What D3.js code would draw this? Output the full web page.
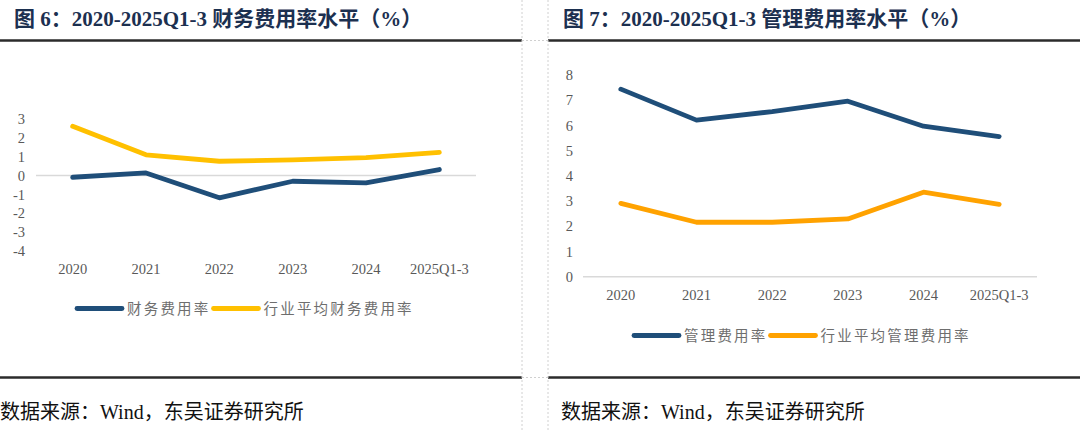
<!DOCTYPE html>
<html><head><meta charset="utf-8">
<script src="https://cdn.jsdelivr.net/npm/d3@7"></script>
<style>body{margin:0;background:#fff}svg{display:block}</style>
</head><body>
<svg id="c" width="1080" height="431"></svg>
<script>
const categories = ["2020","2021","2022","2023","2024","2025Q1-3"];
const finRate = [-0.09, 0.14, -1.18, -0.30, -0.39, 0.32];
const finIndustry = [2.61, 1.10, 0.76, 0.83, 0.95, 1.23];
const mgmtRate = [7.44, 6.21, 6.55, 6.96, 5.97, 5.56];
const mgmtIndustry = [2.91, 2.16, 2.16, 2.29, 3.35, 2.87];
const leftTicks = [3,2,1,0,-1,-2,-3,-4];
const rightTicks = [0,1,2,3,4,5,6,7,8];
const titles = ["图 6：2020-2025Q1-3 财务费用率水平（%）","图 7：2020-2025Q1-3 管理费用率水平（%）"];
const legendLeft = ["财务费用率","行业平均财务费用率"];
const legendRight = ["管理费用率","行业平均管理费用率"];
const source = "数据来源：Wind，东吴证券研究所";

const svg = d3.select("#c");
const serif = "'Liberation Serif','Noto Sans CJK SC',serif";
const cjk = "'Liberation Serif','Noto Sans CJK SC',sans-serif";

// frame lines
[[0,522],[548,1080]].forEach(([a,b])=>{
  svg.append("line").attr("x1",a).attr("x2",b).attr("y1",40.5).attr("y2",40.5).attr("stroke","#2b2b2b").attr("stroke-width",2.5);
  svg.append("line").attr("x1",a).attr("x2",b).attr("y1",377.5).attr("y2",377.5).attr("stroke","#2b2b2b").attr("stroke-width",2.5);
});
[522,548].forEach(x=>svg.append("line").attr("x1",x).attr("x2",x).attr("y1",0).attr("y2",431).attr("stroke","#d0d0d0").attr("stroke-dasharray","2,2").attr("stroke-width",1));
[40.5,377.5].forEach(y=>svg.append("line").attr("x1",522).attr("x2",548).attr("y1",y).attr("y2",y).attr("stroke","#d0d0d0").attr("stroke-dasharray","2,2"));

// titles
[[14,titles[0]],[563,titles[1]]].forEach(([x,t])=>{
  svg.append("text").attr("x",x).attr("y",25.5).text(t).attr("font-family",serif).attr("font-weight","bold").attr("font-size",21).attr("fill","#1c3050");
});
// source
[[0,source],[561,source]].forEach(([x,t])=>{
  svg.append("text").attr("x",x).attr("y",419).text(t).attr("font-family",serif).attr("font-size",20).attr("fill","#111");
});

function panel(o){
  const x = d3.scaleBand().domain(categories).range([o.x0,o.x1]);
  const y = d3.scaleLinear().domain(o.domain).range(o.yr);
  const g = svg.append("g");
  g.append("line").attr("x1",o.x0).attr("x2",o.x1).attr("y1",y(0)).attr("y2",y(0)).attr("stroke","#d9d9d9").attr("stroke-width",1.5);
  g.selectAll(".yt").data(o.ticks).join("text").attr("x",o.labelX).attr("y",d=>y(d)).attr("dy","0.35em")
    .attr("text-anchor","end").text(d=>d).attr("font-family",serif).attr("font-size",14.5).attr("fill","#595959");
  g.selectAll(".xt").data(categories).join("text").attr("x",d=>x(d)+x.bandwidth()/2).attr("y",o.xLabelY).attr("dy","0.35em")
    .attr("text-anchor","middle").text(d=>d).attr("font-family",serif).attr("font-size",14.5).attr("fill","#595959");
  const line = d3.line().x((d,i)=>x(categories[i])+x.bandwidth()/2).y(d=>y(d));
  o.series.forEach(s=>{
    g.append("path").attr("d",line(s.v)).attr("fill","none").attr("stroke",s.c).attr("stroke-width",4.8).attr("stroke-linecap","round").attr("stroke-linejoin","round");
  });
  // legend
  const lg = g.append("g");
  let lx = o.legX;
  o.series.forEach(s=>{
    lg.append("line").attr("x1",lx).attr("x2",lx+45).attr("y1",o.legY).attr("y2",o.legY).attr("stroke",s.c).attr("stroke-width",4.8).attr("stroke-linecap","round");
    const t = lg.append("text").attr("x",lx+50).attr("y",o.legY).attr("dy","0.35em").text(s.name)
      .attr("font-family",cjk).attr("font-size",14.5).attr("letter-spacing",2.2).attr("fill","#6e6e6e");
    lx = lx+50+t.node().getComputedTextLength()+3;
  });
}

panel({x0:36,x1:476,domain:[-4,3],yr:[251,119],ticks:leftTicks,labelX:25,xLabelY:269,legX:77,legY:308.5,
  series:[{v:finRate,c:"#1f4e79",name:legendLeft[0]},{v:finIndustry,c:"#ffc000",name:legendLeft[1]}]});
panel({x0:583,x1:1037,domain:[0,8],yr:[276.7,75],ticks:rightTicks,labelX:573,xLabelY:295,legX:634,legY:335.5,
  series:[{v:mgmtRate,c:"#1f4e79",name:legendRight[0]},{v:mgmtIndustry,c:"#ffa200",name:legendRight[1]}]});
</script>
</body></html>
